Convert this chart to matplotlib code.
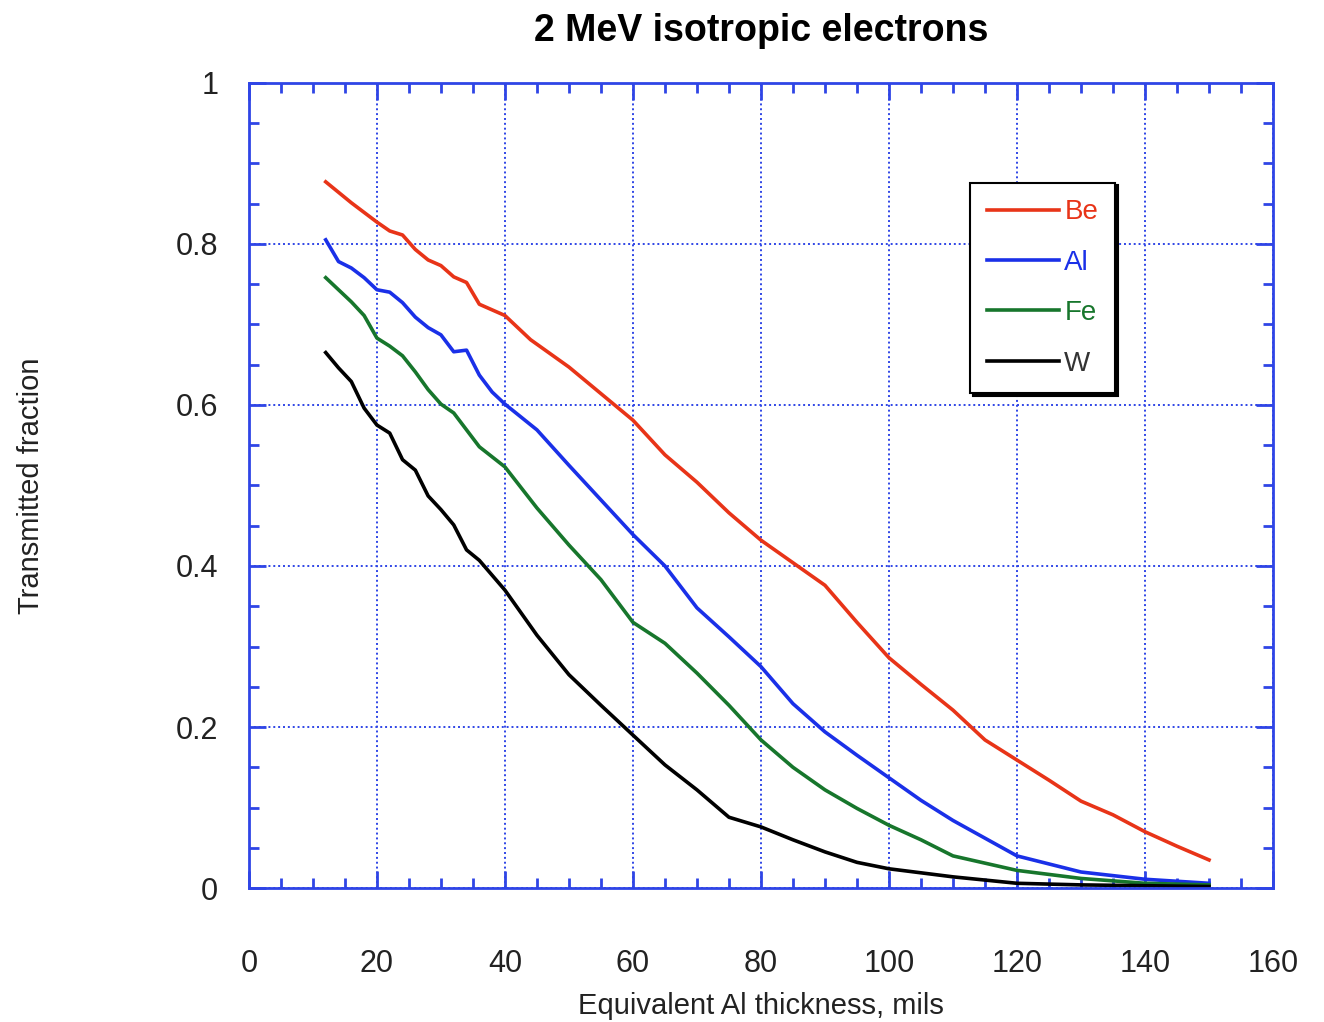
import numpy as np
import matplotlib
matplotlib.use('Agg')
import matplotlib.pyplot as plt
from matplotlib.ticker import MultipleLocator

plt.rcParams['font.family'] = ['Liberation Sans', 'DejaVu Sans']

# Transmission curves
be_x = [12, 16, 20, 22, 24, 26, 28, 30, 32, 34, 36, 40, 44, 50, 55, 60, 65, 70, 75, 80,
        85, 90, 95, 100, 105, 110, 115, 120, 125, 130, 135, 140, 145, 150]
be_y = [0.877, 0.851, 0.827, 0.816, 0.811, 0.793, 0.780, 0.773, 0.759, 0.752, 0.725, 0.711,
        0.681, 0.647, 0.614, 0.581, 0.538, 0.504, 0.466, 0.432, 0.404, 0.376, 0.330, 0.286,
        0.253, 0.221, 0.184, 0.159, 0.134, 0.108, 0.091, 0.070, 0.052, 0.035]

al_x = [12, 14, 16, 18, 20, 22, 24, 26, 28, 30, 32, 34, 36, 38, 40, 45, 50, 55, 60, 65,
        70, 75, 80, 85, 90, 95, 100, 105, 110, 115, 120, 125, 130, 140, 150]
al_y = [0.805, 0.778, 0.770, 0.758, 0.743, 0.740, 0.727, 0.709, 0.696, 0.687, 0.666, 0.668,
        0.637, 0.616, 0.601, 0.569, 0.525, 0.482, 0.439, 0.400, 0.348, 0.312, 0.275, 0.229,
        0.194, 0.165, 0.137, 0.109, 0.084, 0.062, 0.040, 0.030, 0.020, 0.011, 0.006]

fe_x = [12, 14, 16, 18, 20, 22, 24, 26, 28, 30, 32, 34, 36, 40, 45, 50, 55, 60, 65, 70,
        75, 80, 85, 90, 95, 100, 105, 110, 115, 120, 130, 140, 150]
fe_y = [0.758, 0.743, 0.728, 0.711, 0.683, 0.673, 0.661, 0.641, 0.619, 0.601, 0.590, 0.569,
        0.548, 0.523, 0.472, 0.426, 0.383, 0.330, 0.304, 0.267, 0.227, 0.184, 0.150, 0.122,
        0.099, 0.078, 0.060, 0.040, 0.031, 0.022, 0.012, 0.006, 0.004]

w_x = [12, 14, 16, 18, 20, 22, 24, 26, 28, 30, 32, 34, 36, 40, 45, 50, 55, 60, 65, 70,
       75, 80, 85, 90, 95, 100, 105, 110, 115, 120, 130, 150]
w_y = [0.665, 0.646, 0.629, 0.596, 0.575, 0.565, 0.532, 0.519, 0.487, 0.470, 0.451, 0.420,
       0.407, 0.370, 0.314, 0.265, 0.227, 0.190, 0.153, 0.122, 0.088, 0.076, 0.060, 0.045,
       0.032, 0.024, 0.019, 0.014, 0.010, 0.006, 0.004, 0.002]

series = [('Be', be_x, be_y, '#e83418'),
          ('Al', al_x, al_y, '#1a30e8'),
          ('Fe', fe_x, fe_y, '#17762c'),
          ('W', w_x, w_y, '#000000')]

axis_blue = '#2f45e6'

fig = plt.figure(figsize=(13.24, 10.22), dpi=100)
ax = fig.add_axes([0.188, 0.131, 0.7735, 0.788])

for name, x, y, c in series:
    ax.plot(x, y, color=c, lw=2.6, label=name)

ax.set_xlim(0, 160)
ax.set_ylim(0, 1)
ax.xaxis.set_major_locator(MultipleLocator(20))
ax.xaxis.set_minor_locator(MultipleLocator(5))
ax.yaxis.set_major_locator(MultipleLocator(0.2))
ax.yaxis.set_minor_locator(MultipleLocator(0.05))
ax.set_yticks([0, 0.2, 0.4, 0.6, 0.8, 1])
ax.set_yticklabels(['0', '0.2', '0.4', '0.6', '0.8', '1'])

for s in ax.spines.values():
    s.set_color(axis_blue)
    s.set_linewidth(2)
ax.tick_params(which='both', direction='in', top=True, right=True, colors=axis_blue,
               labelcolor='#222222', labelsize=22)
ax.tick_params(which='major', length=12, width=2)
ax.tick_params(which='minor', length=7, width=2)
ax.tick_params(axis='x', pad=44)
ax.tick_params(axis='y', pad=22)
ax.grid(True, which='major', color=axis_blue, linestyle=(0, (1, 1.5)), lw=1.4)

ax.set_xlabel('Equivalent Al thickness, mils', fontsize=21, color='#222222', labelpad=9)
ax.set_ylabel('Transmitted fraction', fontsize=21, color='#222222', labelpad=94)
ax.set_title('2 MeV isotropic electrons', fontsize=27, fontweight='bold', pad=30)

leg = ax.legend(loc='upper left', bbox_to_anchor=(0.704, 0.876), borderaxespad=0,
                fancybox=False, edgecolor='black', framealpha=1, fontsize=20,
                handlelength=2.6, handletextpad=0.2, labelspacing=0.88,
                borderpad=0.6, shadow={'color': 'black', 'alpha': 1})
leg.get_frame().set_linewidth(1.5)
for txt, (_, _, _, c) in zip(leg.get_texts(), series):
    txt.set_color(c if c != '#000000' else '#333333')

fig.savefig('out.png', dpi=100)
